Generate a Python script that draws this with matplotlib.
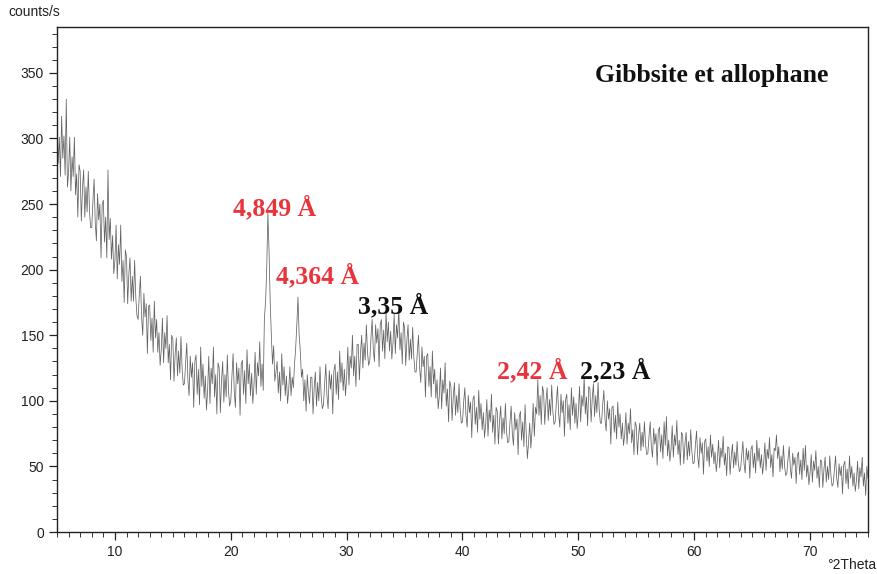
import numpy as np
import matplotlib
matplotlib.use("Agg")
import matplotlib.pyplot as plt
from matplotlib.ticker import MultipleLocator

# Intensity (counts/s), every 0.1 °2Theta from 5 to 75
counts = [
    313, 281, 301, 271, 317, 285, 302, 272, 330, 263,
    274, 301, 260, 286, 271, 301, 257, 273, 240, 280,
    275, 237, 262, 276, 240, 263, 244, 275, 246, 232,
    232, 252, 269, 236, 222, 258, 238, 250, 209, 250,
    253, 221, 240, 209, 276, 223, 239, 208, 226, 197,
    207, 234, 193, 219, 204, 234, 191, 207, 175, 215,
    210, 174, 196, 209, 176, 195, 176, 207, 179, 165,
    162, 180, 195, 164, 150, 182, 164, 174, 136, 172,
    173, 146, 163, 137, 176, 148, 162, 137, 152, 127,
    139, 163, 129, 152, 140, 165, 129, 143, 116, 150,
    147, 115, 136, 148, 119, 138, 121, 149, 124, 112,
    113, 129, 144, 116, 104, 134, 118, 129, 95, 130,
    135, 105, 124, 97, 141, 111, 128, 102, 119, 93,
    108, 134, 98, 125, 113, 141, 103, 120, 90, 129,
    125, 91, 115, 130, 99, 120, 103, 135, 108, 96,
    100, 119, 136, 107, 95, 129, 113, 125, 89, 128,
    131, 105, 123, 98, 139, 113, 128, 104, 121, 98,
    112, 137, 105, 129, 119, 145, 111, 128, 108, 163,
    175, 200, 243, 215, 176, 150, 128, 142, 115, 122,
    130, 106, 122, 100, 136, 112, 126, 104, 119, 98,
    108, 126, 104, 118, 110, 128, 140, 158, 179, 150,
    138, 118, 124, 100, 116, 92, 120, 106, 98, 118,
    118, 90, 110, 122, 96, 114, 100, 126, 104, 94,
    97, 113, 128, 104, 94, 123, 109, 120, 90, 123,
    128, 105, 122, 101, 138, 114, 129, 108, 124, 104,
    118, 141, 112, 134, 125, 150, 119, 134, 111, 143,
    143, 116, 137, 150, 125, 144, 131, 158, 137, 127,
    131, 148, 162, 139, 130, 158, 144, 155, 126, 158,
    162, 138, 154, 132, 168, 145, 160, 138, 153, 132,
    144, 166, 136, 158, 148, 171, 139, 152, 128, 160,
    156, 127, 146, 158, 131, 147, 132, 156, 133, 122,
    122, 137, 150, 125, 114, 141, 126, 134, 103, 134,
    136, 111, 126, 103, 138, 113, 124, 102, 116, 94,
    104, 125, 94, 116, 106, 129, 96, 109, 84, 115,
    111, 85, 103, 114, 89, 104, 91, 113, 93, 83,
    84, 99, 110, 89, 80, 104, 91, 99, 72, 101,
    104, 82, 95, 76, 108, 86, 98, 78, 91, 72,
    82, 101, 73, 93, 84, 105, 76, 89, 67, 95,
    92, 67, 85, 96, 71, 87, 75, 98, 77, 68,
    69, 84, 96, 75, 66, 91, 78, 86, 59, 88,
    92, 70, 84, 65, 97, 75, 56, 68, 83, 64,
    77, 98, 73, 95, 90, 116, 89, 104, 82, 111,
    107, 82, 99, 110, 85, 101, 89, 112, 92, 82,
    84, 99, 111, 90, 80, 105, 91, 100, 73, 101,
    105, 83, 97, 78, 110, 89, 103, 83, 98, 79,
    91, 111, 84, 104, 96, 118, 90, 103, 81, 111,
    109, 84, 102, 113, 88, 104, 91, 114, 93, 83,
    83, 97, 108, 86, 77, 100, 86, 94, 67, 95,
    96, 76, 89, 71, 99, 80, 90, 71, 83, 66,
    74, 91, 67, 83, 75, 94, 68, 78, 59, 84,
    81, 59, 74, 83, 62, 76, 65, 84, 67, 59,
    60, 73, 84, 65, 57, 79, 67, 75, 51, 77,
    80, 61, 74, 56, 84, 66, 88, 58, 70, 54,
    63, 81, 57, 74, 66, 85, 59, 70, 51, 76,
    74, 52, 67, 76, 55, 69, 58, 78, 61, 52,
    53, 66, 77, 58, 49, 72, 60, 68, 44, 69,
    71, 54, 65, 50, 74, 57, 67, 52, 61, 46,
    55, 70, 49, 64, 57, 73, 51, 60, 43, 65,
    64, 44, 58, 67, 49, 61, 51, 69, 53, 46,
    48, 59, 69, 52, 45, 64, 55, 62, 41, 63,
    66, 49, 60, 45, 70, 54, 64, 49, 59, 44,
    53, 68, 47, 63, 56, 72, 49, 59, 42, 64,
    62, 74, 56, 65, 46, 58, 48, 66, 50, 43,
    45, 56, 65, 48, 41, 60, 51, 57, 37, 58,
    61, 44, 55, 40, 64, 47, 66, 42, 51, 36,
    45, 59, 38, 54, 47, 62, 41, 50, 34, 55,
    54, 34, 48, 57, 38, 50, 40, 58, 43, 35,
    37, 48, 58, 41, 34, 52, 43, 50, 29, 51,
    54, 37, 48, 33, 58, 41, 50, 35, 45, 31,
    39, 54, 33, 49, 42, 57, 35, 45, 28, 50,
    41,
]
theta_start, theta_end = 5, 75
two_theta = np.linspace(theta_start, theta_end, len(counts))

# Peak labels
peak_labels = ["4,849 Å", "4,364 Å", "3,35 Å", "2,42 Å", "2,23 Å"]
peak_label_x = [23.8, 27.5, 34.0, 46.0, 53.2]
peak_label_y = [247, 195, 172, 123, 123]
peak_label_colors = ["#e8343a", "#e8343a", "#111111", "#e8343a", "#111111"]
title_text = "Gibbsite et allophane"

fig = plt.figure(figsize=(8.78, 5.74), dpi=100)
ax = fig.add_axes([57 / 878, 1 - 532 / 574, (868 - 57) / 878, (532 - 27) / 574])

ax.plot(two_theta, counts, color="#3c3c3c", lw=0.55, alpha=0.8)

ax.set_xlim(theta_start, theta_end)
ax.set_ylim(0, 385)

ax.xaxis.set_major_locator(MultipleLocator(10))
ax.xaxis.set_minor_locator(MultipleLocator(1))
ax.yaxis.set_major_locator(MultipleLocator(50))
ax.yaxis.set_minor_locator(MultipleLocator(10))
ax.tick_params(axis="both", which="major", direction="out", length=6, width=0.9,
               labelsize=10, colors="#222222")
ax.tick_params(axis="both", which="minor", direction="out", length=3.5, width=0.7,
               colors="#333333")
for lbl in ax.get_xticklabels() + ax.get_yticklabels():
    lbl.set_family("Liberation Sans")
for s in ax.spines.values():
    s.set_linewidth(1.0)
    s.set_color("#222222")

for txt, x, y, c in zip(peak_labels, peak_label_x, peak_label_y, peak_label_colors):
    ax.text(x, y, txt, color=c, fontsize=18.5, fontweight="bold",
            family="Liberation Serif", ha="center", va="center")

ax.text(61.5, 348, title_text, color="#111111", fontsize=18.5, fontweight="bold",
        family="Liberation Serif", ha="center", va="center")

fig.text(8 / 878, 1 - 12 / 574, "counts/s", fontsize=10, family="Liberation Sans",
         ha="left", va="center", color="#222222")
fig.text(876 / 878, 1 - 565 / 574, "°2Theta", fontsize=10, family="Liberation Sans",
         ha="right", va="center", color="#222222")

fig.savefig("out.png", dpi=100)
